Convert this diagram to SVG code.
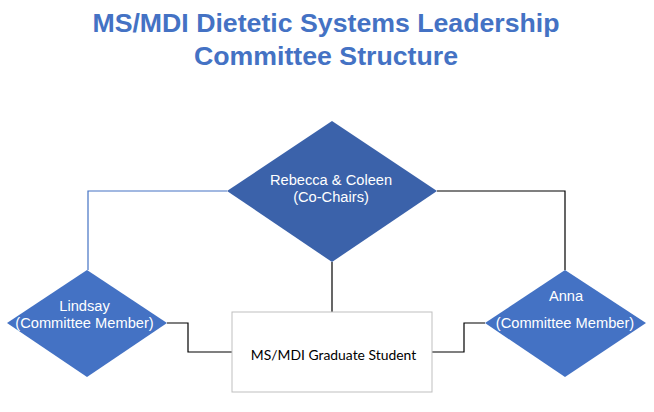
<svg xmlns="http://www.w3.org/2000/svg" width="654" height="412" viewBox="0 0 654 412">
<style>
.title{font-family:"Liberation Sans",Arial,sans-serif;font-weight:bold;font-size:26.7px;fill:#4472C4;text-anchor:middle}
.dt{font-family:"Liberation Sans",Arial,sans-serif;font-size:14.67px;fill:#ffffff;text-anchor:middle}
.bt{font-family:"Lato","Liberation Sans",sans-serif;font-size:13.9px;fill:#000000;text-anchor:middle}
.conn{fill:none;stroke-width:1.2}
</style>
<rect width="654" height="412" fill="#ffffff"/>
<text class="title" x="326" y="32">MS/MDI Dietetic Systems Leadership</text>
<text class="title" x="326" y="65">Committee Structure</text>
<g id="connectors">
<polyline class="conn" stroke="#4472C4" points="227,191 88,191 88,270"/>
<polyline class="conn" stroke="#000000" points="437,191 565,191 565,270"/>
<polyline class="conn" stroke="#000000" points="332,262 332,312"/>
<polyline class="conn" stroke="#000000" points="167,323 188,323 188,352 232,352"/>
<polyline class="conn" stroke="#000000" points="432,352 464,352 464,323 485,323"/>
</g>
<g id="chairs">
<polygon points="332,121 437,191 332,262 227,191" fill="#3B62AA"/>
<text class="dt" x="331" y="185">Rebecca &amp; Coleen</text>
<text class="dt" x="331" y="202">(Co-Chairs)</text>
</g>
<g id="lindsay">
<polygon points="87,270 167,323 87,377 7,323" fill="#4472C4"/>
<text class="dt" x="84.5" y="311">Lindsay</text>
<text class="dt" x="84.5" y="328">(Committee Member)</text>
</g>
<g id="anna">
<polygon points="565,270 646,323 565,377 485,323" fill="#4472C4"/>
<text class="dt" x="566" y="301">Anna</text>
<text class="dt" x="565" y="328">(Committee Member)</text>
</g>
<g id="student">
<rect x="232" y="312" width="200" height="80" fill="#ffffff" stroke="#BFBFBF" stroke-width="1"/>
<text class="bt" x="333.5" y="360">MS/MDI Graduate Student</text>
</g>
</svg>
